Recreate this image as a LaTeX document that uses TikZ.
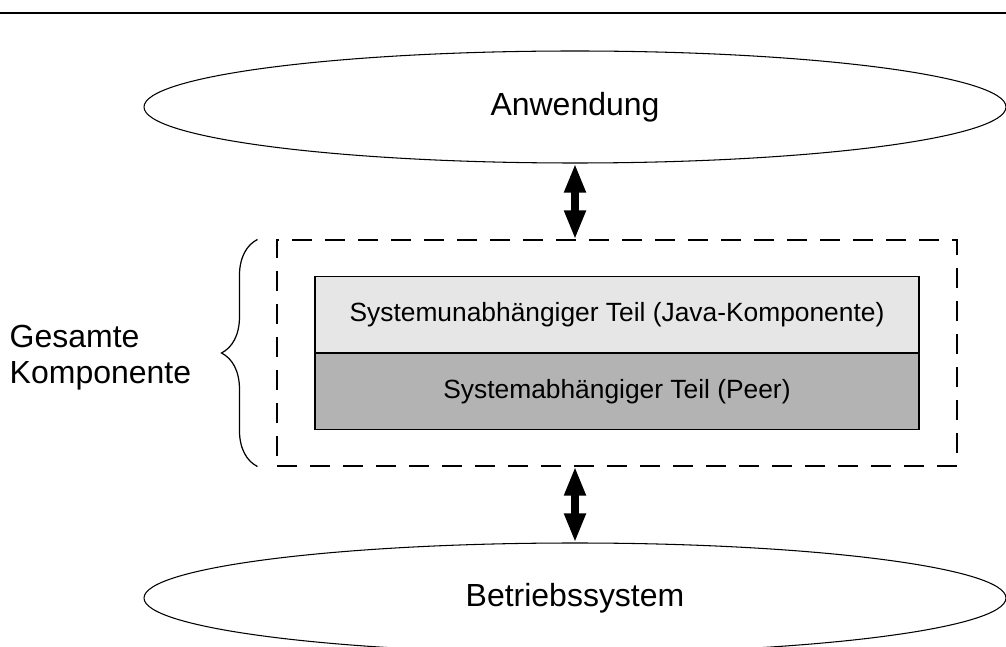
\documentclass[tikz,border=0pt]{standalone}
\usepackage{fontspec}
\setmainfont{Liberation Sans}
\usepackage{tikz}
\usetikzlibrary{arrows.meta,positioning,calc,shapes.geometric,decorations.pathreplacing}
\usepackage{xcolor}
\definecolor{javagray}{HTML}{E6E6E6}
\definecolor{peergray}{HTML}{B3B3B3}
\tikzset{
  layer/.style={ellipse, draw=black, line width=0.6pt, minimum width=17.24cm, inner sep=0pt, font=\fontsize{18.2pt}{20.5pt}\selectfont},
  part/.style={draw=black, line width=0.8pt, minimum width=12.08cm, minimum height=1.53cm, inner sep=0pt, outer sep=0pt, align=center, font=\fontsize{15pt}{18pt}\selectfont},
  compframe/.style={draw=black, dash pattern=on 0.4cm off 0.26cm, line width=0.6pt, minimum width=13.6cm, minimum height=4.52cm, inner sep=0pt},
  bigarrow/.style={{Triangle[length=0.58cm,width=0.4cm]}-{Triangle[length=0.58cm,width=0.4cm]}, line width=0.16cm}
}

\begin{document}
\begin{tikzpicture}[
  brace/.style={decorate, decoration={brace, amplitude=0.72cm}, line width=0.7pt},
  lbl/.style={align=left, inner sep=0pt, font=\fontsize{18.2pt}{20.5pt}\selectfont}
]
\useasboundingbox (0,0) rectangle (20.12,-12.94);
% rule
\draw[line width=0.75pt] (0,-0.26) -- (20.12,-0.26);
% layers
\node[layer, minimum height=2.24cm] (app) at (11.5,-2.14) {Anwendung};
\node[layer, minimum height=2.2cm] (os) at (11.5,-11.96) {Betriebssystem};
% component
\node[compframe] (comp) at (12.34,-7.06) {};
\node[part, fill=javagray, anchor=south] (java) at (12.34,-7.06) {Systemunabhängiger Teil (Java-Komponente)};
\node[part, fill=peergray, below=0pt of java] (peer) {Systemabhängiger Teil (Peer)};
% brace
\draw[brace] ($(comp.south west)+(-0.38,0)$) -- ($(comp.north west)+(-0.38,0)$)
  coordinate[midway, xshift=-0.72cm] (tip);
\node[lbl, left=0.6cm of tip, yshift=-0.1cm] (whole) {Gesamte\\Komponente};
% arrows
\draw[bigarrow] (app.south) -- (app.south |- comp.north);
\draw[bigarrow] (os.north |- comp.south) -- (os.north);
\end{tikzpicture}
\end{document}
